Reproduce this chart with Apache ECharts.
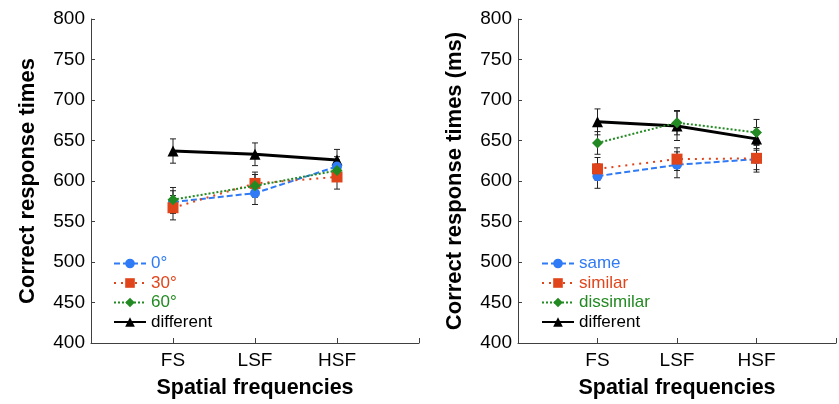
<!DOCTYPE html>
<html>
<head>
<meta charset="utf-8">
<script src="https://cdn.jsdelivr.net/npm/echarts@6/dist/echarts.min.js"></script>
<style>html,body{margin:0;padding:0;background:#fff}#c{width:839px;height:404px}</style>
</head>
<body>
<div id="c"></div>
<script>
// ---- data ----
const xLabels = ['FS', 'LSF', 'HSF'];
const yTicks = [400, 450, 500, 550, 600, 650, 700, 750, 800];

const leftNames = ['0°', '30°', '60°', 'different'];
const left0 = [574, 585, 618];
const left30 = [567, 597, 605];
const left60 = [577, 594, 613];
const leftDiff = [637, 633, 626];
const left0Err = [14, 14, 12];
const left30Err = [15, 14, 15];
const left60Err = [15, 14, 13];
const leftDiffErr = [15, 14, 13];

const rightNames = ['same', 'similar', 'dissimilar', 'different'];
const rightSame = [606, 620, 627];
const rightSimilar = [615, 627, 628];
const rightDissimilar = [647, 672, 660];
const rightDiff = [673, 668, 652];
const rightSameErr = [15, 16, 13];
const rightSimilarErr = [14, 14, 17];
const rightDissimilarErr = [14, 15, 16];
const rightDiffErr = [16, 18, 14];

// ---- styles ----
const colBlue = '#2f7af5', colRed = '#e0441a', colGreen = '#238a23', colBlack = '#000000';
const font = 'Liberation Sans, Arial, sans-serif';
const axisCol = '#404040';

function pts(vals) { return vals.map((v, i) => [i + 1, v]); }
function errPts(vals, errs) { return vals.map((v, i) => [i + 1, v - errs[i], v + errs[i]]); }

function lineSeries(name, vals, color, symbol, size, type, width, idx, z) {
  return {
    type: 'line', name: name, xAxisIndex: idx, yAxisIndex: idx,
    data: pts(vals), symbol: symbol, symbolSize: size,
    lineStyle: { color: color, width: width, type: type },
    itemStyle: { color: color }, z: z, animation: false
  };
}
function errSeries(vals, errs, idx) {
  return {
    type: 'custom', xAxisIndex: idx, yAxisIndex: idx, z: 1, animation: false, silent: true,
    data: errPts(vals, errs),
    renderItem: function (params, api) {
      const lo = api.coord([api.value(0), api.value(1)]);
      const hi = api.coord([api.value(0), api.value(2)]);
      const w = 3;
      const style = { stroke: '#222', lineWidth: 1 };
      return { type: 'group', children: [
        { type: 'line', shape: { x1: lo[0], y1: lo[1], x2: hi[0], y2: hi[1] }, style: style },
        { type: 'line', shape: { x1: lo[0] - w, y1: lo[1], x2: lo[0] + w, y2: lo[1] }, style: style },
        { type: 'line', shape: { x1: hi[0] - w, y1: hi[1], x2: hi[0] + w, y2: hi[1] }, style: style }
      ]};
    }
  };
}
function xAxis(idx) {
  return {
    type: 'value', gridIndex: idx, min: 0, max: 4, interval: 1,
    name: 'Spatial frequencies', nameLocation: 'middle', nameGap: 34,
    nameTextStyle: { fontFamily: font, fontSize: 21.5, fontWeight: 'bold', color: '#000' },
    axisLine: { lineStyle: { color: axisCol, width: 1 } },
    axisTick: { inside: true, length: 5, lineStyle: { color: axisCol } },
    axisLabel: { fontFamily: font, fontSize: 19, color: '#000', margin: 8,
      formatter: v => xLabels[v - 1] || '' },
    splitLine: { show: false }
  };
}
function yAxis(idx, name) {
  return {
    type: 'value', gridIndex: idx, min: yTicks[0], max: yTicks[yTicks.length - 1], interval: 50,
    name: name, nameLocation: 'middle', nameGap: 52, nameRotate: 90,
    nameTextStyle: { fontFamily: font, fontSize: 22, fontWeight: 'bold', color: '#000' },
    axisLine: { show: true, lineStyle: { color: axisCol, width: 1 } },
    axisTick: { show: true, inside: true, length: 4, lineStyle: { color: axisCol } },
    axisLabel: { fontFamily: font, fontSize: 19, color: '#000', margin: 6 },
    splitLine: { show: false }
  };
}
function legend(names, colors, left) {
  return {
    orient: 'vertical', left: left, top: 250, itemWidth: 32, itemHeight: 12, itemGap: 2.5,
    textStyle: { fontFamily: font, fontSize: 17 },
    data: names.map((n, i) => ({ name: n, textStyle: { color: colors[i] } })),
    selectedMode: false
  };
}

const chart = echarts.init(document.getElementById('c'), null, { renderer: 'canvas' });
chart.setOption({
  backgroundColor: '#fff',
  animation: false,
  grid: [
    { left: 91, top: 19, width: 328, height: 325 },
    { left: 518, top: 19, width: 328, height: 324 }
  ],
  xAxis: [xAxis(0), xAxis(1)],
  yAxis: [yAxis(0, 'Correct response times'), yAxis(1, 'Correct response times (ms)')],
  legend: [
    legend(leftNames, [colBlue, colRed, colGreen, colBlack], 108),
    legend(rightNames, [colBlue, colRed, colGreen, colBlack], 536)
  ],
  series: [
    errSeries(left0, left0Err, 0), errSeries(left30, left30Err, 0),
    errSeries(left60, left60Err, 0), errSeries(leftDiff, leftDiffErr, 0),
    lineSeries('different', leftDiff, colBlack, 'triangle', 11, 'solid', 3, 0, 2),
    lineSeries('0°', left0, colBlue, 'circle', 10, [6, 3], 2, 0, 3),
    lineSeries('30°', left30, colRed, 'rect', 11, [2, 5], 2, 0, 4),
    lineSeries('60°', left60, colGreen, 'diamond', 11, [2, 2], 2, 0, 5),
    errSeries(rightSame, rightSameErr, 1), errSeries(rightSimilar, rightSimilarErr, 1),
    errSeries(rightDissimilar, rightDissimilarErr, 1), errSeries(rightDiff, rightDiffErr, 1),
    lineSeries('different', rightDiff, colBlack, 'triangle', 11, 'solid', 3, 1, 2),
    lineSeries('same', rightSame, colBlue, 'circle', 10, [6, 3], 2, 1, 3),
    lineSeries('similar', rightSimilar, colRed, 'rect', 11, [2, 5], 2, 1, 4),
    lineSeries('dissimilar', rightDissimilar, colGreen, 'diamond', 11, [2, 2], 2, 1, 5)
  ]
});
</script>
</body>
</html>
